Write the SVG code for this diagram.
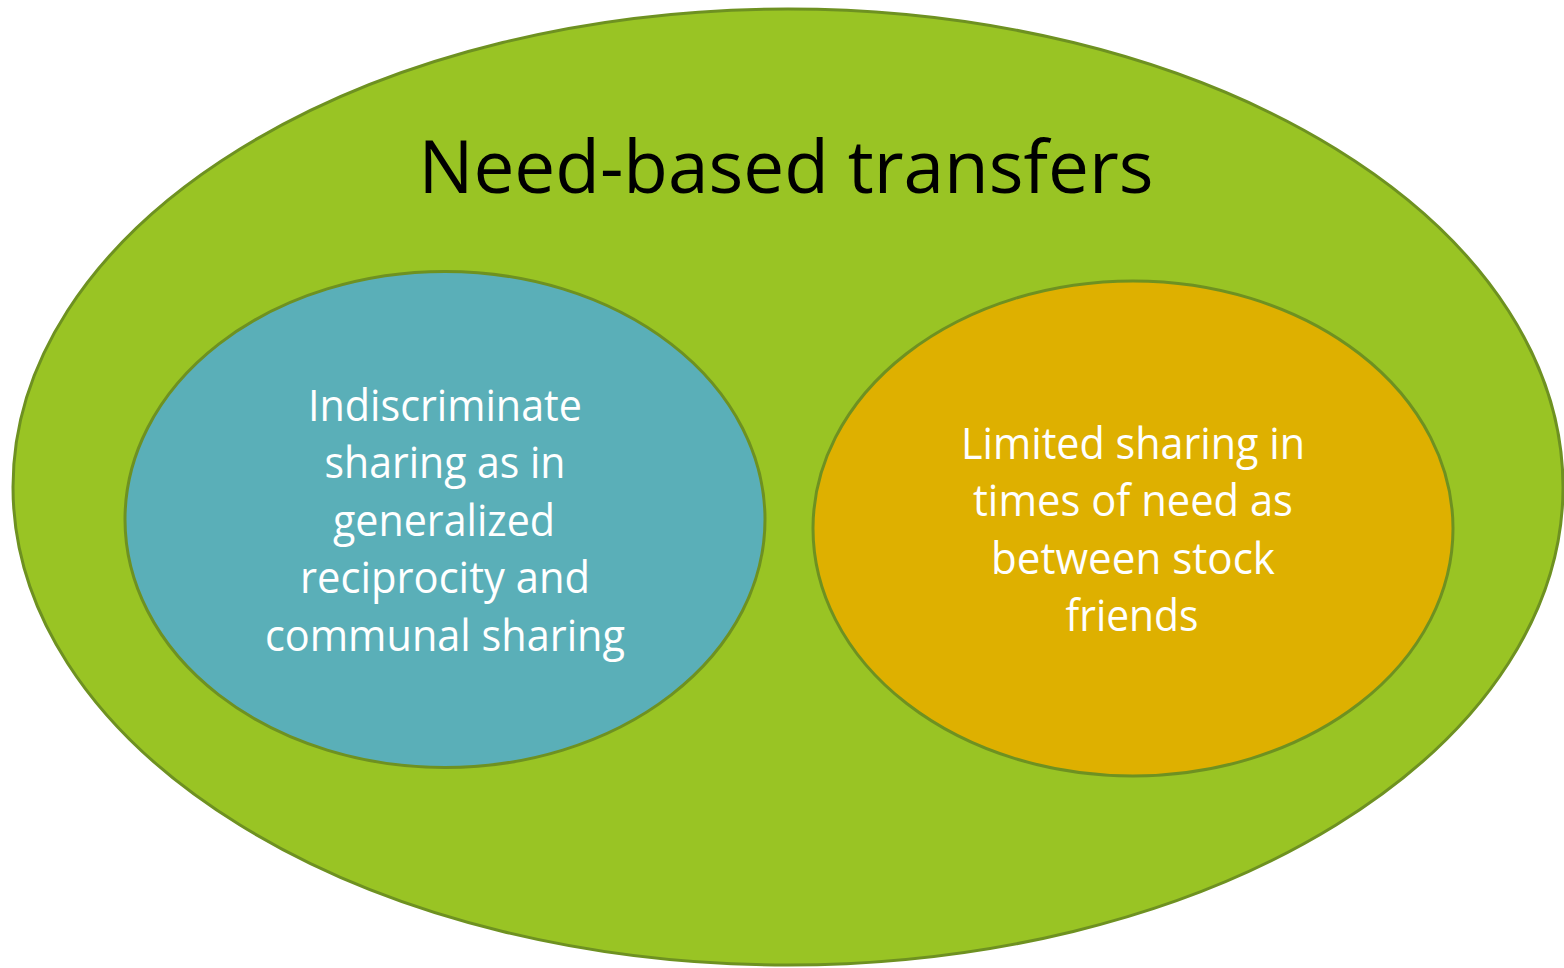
<svg xmlns="http://www.w3.org/2000/svg" width="1564" height="968" viewBox="0 0 1564 968">
  <style>
    .ring { stroke: #6E9121; stroke-width: 3; }
    .title { font-family: "Open Sans", "Noto Sans", sans-serif; font-size: 73px; fill: #000000; text-anchor: middle; }
    .label { font-family: "Open Sans", "Noto Sans", sans-serif; font-size: 43px; fill: #FFFFFF; text-anchor: middle; }
  </style>
  <rect width="1564" height="968" fill="#FFFFFF"/>

  <!-- outer set -->
  <g id="need-based-transfers">
    <ellipse class="ring" cx="788" cy="487" rx="775" ry="478" fill="#99C424"/>
    <text class="title" x="786" y="193" textLength="735" lengthAdjust="spacingAndGlyphs">Need-based transfers</text>
  </g>

  <!-- left subset -->
  <g id="indiscriminate-sharing">
    <ellipse class="ring" cx="445" cy="519.5" rx="320" ry="248" fill="#5AAFB8"/>
    <text class="label" x="445" y="421" textLength="274" lengthAdjust="spacingAndGlyphs">Indiscriminate</text>
    <text class="label" x="445" y="478" textLength="241" lengthAdjust="spacingAndGlyphs">sharing as in</text>
    <text class="label" x="444" y="536" textLength="222" lengthAdjust="spacingAndGlyphs">generalized</text>
    <text class="label" x="445" y="593" textLength="290" lengthAdjust="spacingAndGlyphs">reciprocity and</text>
    <text class="label" x="445" y="651" textLength="360" lengthAdjust="spacingAndGlyphs">communal sharing</text>
  </g>

  <!-- right subset -->
  <g id="limited-sharing">
    <ellipse class="ring" cx="1133" cy="528.5" rx="320" ry="247.5" fill="#DEB000"/>
    <text class="label" x="1133" y="459" textLength="344" lengthAdjust="spacingAndGlyphs">Limited sharing in</text>
    <text class="label" x="1133" y="516" textLength="320" lengthAdjust="spacingAndGlyphs">times of need as</text>
    <text class="label" x="1133" y="574" textLength="284" lengthAdjust="spacingAndGlyphs">between stock</text>
    <text class="label" x="1132" y="631" textLength="133" lengthAdjust="spacingAndGlyphs">friends</text>
  </g>

  <!-- no connectors in this diagram -->
  <g id="connectors"/>
</svg>
